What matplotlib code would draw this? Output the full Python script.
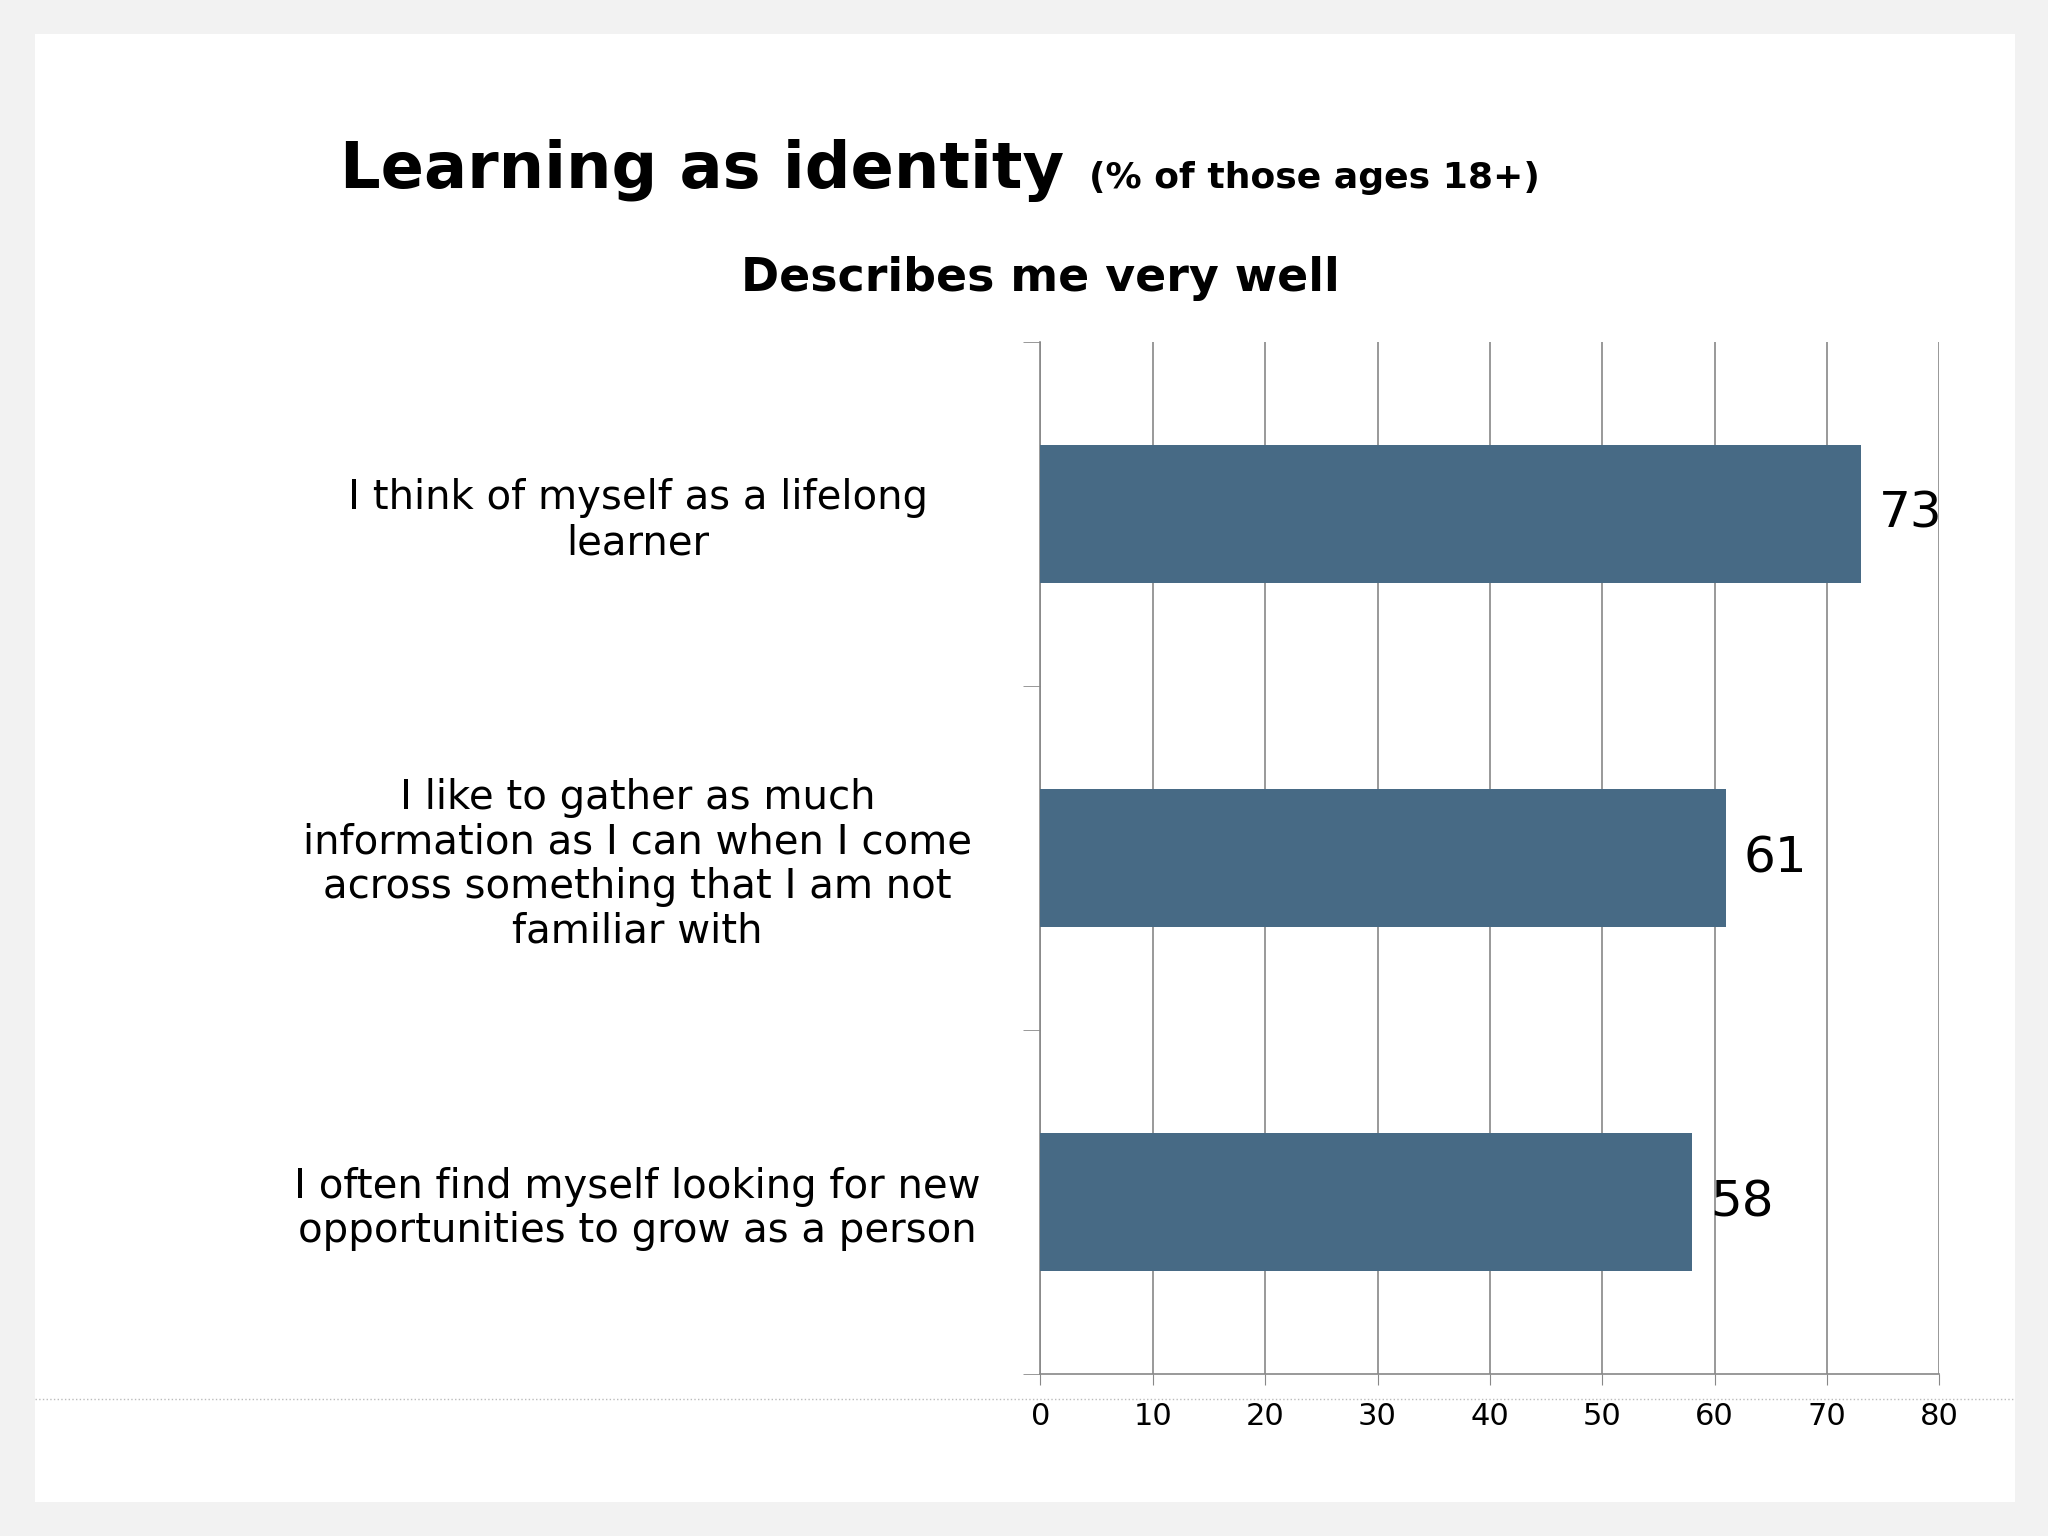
import matplotlib.pyplot as plt
from matplotlib.patches import Rectangle
from matplotlib.lines import Line2D

categories = [
    "I think of myself as a lifelong\nlearner",
    "I like to gather as much\ninformation as I can when I come\nacross something that I am not\nfamiliar with",
    "I often find myself looking for new\nopportunities to grow as a person",
]
values = [73, 61, 58]
xticks = [0, 10, 20, 30, 40, 50, 60, 70, 80]

fig = plt.figure(figsize=(20.48, 15.36), dpi=100)
fig.patch.set_facecolor("#f2f2f2")
fig.patches.append(Rectangle((0.017, 0.022), 0.967, 0.956, transform=fig.transFigure,
                             facecolor="white", edgecolor="none", zorder=-5))
fig.lines.append(Line2D([0.017, 0.984], [0.089, 0.089], transform=fig.transFigure,
                        color="#bbbbbb", lw=1, ls=":", zorder=-4))

ax = fig.add_axes([0.508, 0.1054, 0.439, 0.672])
ax.set_facecolor("none")
pos = list(range(len(categories)))
ax.barh(pos, values, height=0.4, color="#476a85", zorder=3)
for p, v in zip(pos, values):
    ax.text(v + 1.6, p, str(v), va="center", ha="left", fontsize=36, zorder=4)
ax.set_xlim(0, 80)
ax.set_ylim(2.5, -0.5)
ax.set_xticks(xticks)
ax.set_xticklabels([str(t) for t in xticks], fontsize=22)
ax.xaxis.grid(True, color="#888888", lw=1.2, zorder=0)
ax.set_axisbelow(True)
ax.tick_params(axis="x", length=8, color="#888888", pad=12)
ax.set_yticks(pos)
ax.set_yticklabels(categories, fontsize=29, ha="center", linespacing=1.15)
ax.tick_params(axis="y", length=0, pad=290)
ax.set_yticks([-0.5, 0.5, 1.5, 2.5], minor=True)
ax.tick_params(axis="y", which="minor", length=12, color="#888888")
for s in ["top", "right"]:
    ax.spines[s].set_visible(False)
for s in ["left", "bottom"]:
    ax.spines[s].set_color("#888888")
    ax.spines[s].set_linewidth(1.2)

t1 = fig.text(0.166, 0.889, "Learning as identity", fontsize=46, fontweight="bold", va="center")
r = fig.canvas.get_renderer()
bb = t1.get_window_extent(r).transformed(fig.transFigure.inverted())
fig.text(bb.x1 + 0.012, 0.884, "(% of those ages 18+)", fontsize=26, fontweight="bold", va="center")
fig.text(0.508, 0.819, "Describes me very well", fontsize=33, fontweight="bold",
         va="center", ha="center")

fig.savefig("out.png", dpi=100)
